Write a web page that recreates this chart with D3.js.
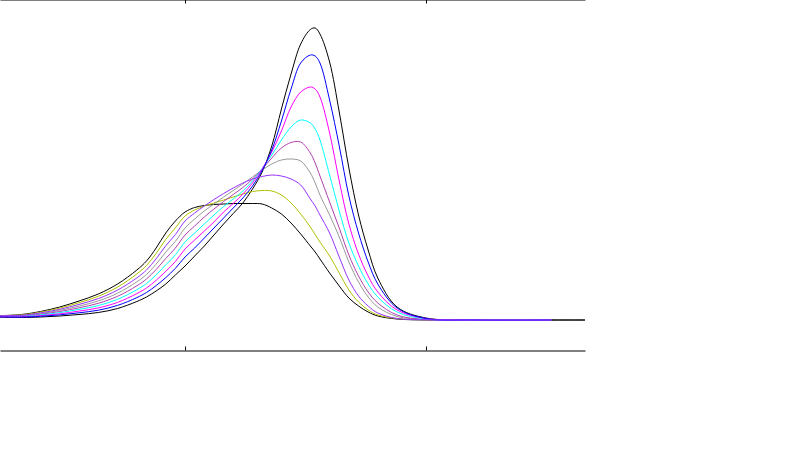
<!DOCTYPE html>
<html>
<head>
<meta charset="utf-8">
<script src="https://cdn.jsdelivr.net/npm/d3@7"></script>
<style>
    html, body { margin: 0; padding: 0; background: #fff; }
    #corpo { width: 800px; height: 450px; }
</style>
</head>
<body>
<div id="corpo"></div>
<script>
// x positions (arbitrary units) where the curves were read
var xs = [0, 30, 50, 70, 90, 110, 130, 150, 160, 170, 180, 190, 200, 210, 220, 230, 240, 250, 260, 270,
          280, 290, 300, 310, 320, 330, 335, 340, 350, 360, 370, 380, 390, 400, 420, 450, 500, 580];
var xsLong = xs.concat([615]);

var tickValues = [200, 450];

// series, from the highest peak down to the lowest
var serie1 = [3, 2.5, 3, 4, 5.5, 7.5, 11.5, 18.5, 23, 29, 36, 45, 54, 64, 74, 85, 96, 106.5, 117, 131,
              148, 174, 211, 246, 276, 290.5, 292, 286, 258, 208, 152, 105, 70, 42, 13, 2, 0.2, 0, 0];
var serie2 = [3.3, 2.9, 3.7, 5.1, 7.2, 9.8, 14.6, 22.4, 27.5, 34.4, 42.4, 51.7, 63, 72, 82, 92, 102, 112, 122, 134,
              149.5, 170, 199, 231, 257, 265, 264, 257, 220, 174, 124, 87, 58, 36, 12, 1.5, 0, 0];
var serie3 = [3.5, 3.2, 4.4, 6.2, 8.9, 12.1, 17.6, 26.4, 32, 39.7, 48.7, 58.5, 71, 80, 89, 98, 108, 116.5, 126, 137,
              151, 168, 189, 213, 228, 233, 231, 223, 187, 139, 96, 66, 44, 28, 10, 1.5, 0, 0];
var serie4 = [3.7, 3.6, 5.1, 7.4, 10.6, 14.4, 20.7, 30.3, 36.5, 45.1, 55.1, 65.2, 78, 87, 96, 105, 113.5, 121, 129, 139,
              151.5, 165, 180, 193, 200, 197, 191, 180, 145, 109, 77, 54, 36, 23, 8, 1, 0, 0];
var serie5 = [3.9, 4, 5.7, 8.5, 12.2, 16.7, 23.7, 34.2, 41, 50.5, 61.5, 72, 85, 94, 103, 111, 118.5, 125.5, 132.5, 141,
              151, 162, 172, 177.5, 178, 167, 157, 144, 118, 92, 65, 44, 28, 17, 5, 0.5, 0, 0];
var serie6 = [4, 4.4, 6.4, 9.6, 13.9, 19.1, 26.8, 38.2, 45.5, 55.9, 67.9, 78.7, 92, 101, 109, 116, 123, 129.5, 136, 143,
              150, 156, 160, 161, 159, 147, 137, 125, 105, 83, 58, 38, 23, 13, 3.5, 0.5, 0, 0];
var serie7 = [4.2, 4.7, 7.1, 10.7, 15.6, 21.4, 29.9, 42.1, 50, 61.2, 74.2, 85.5, 99, 107, 114, 120.5, 126.5, 132, 137, 141,
              143.5, 145, 144, 141, 135, 121, 114, 105, 87, 63, 40, 24, 14, 7, 1.5, 0.2, 0, 0];
var serie8 = [4.3, 5.1, 7.8, 11.9, 17.3, 23.7, 32.9, 46.1, 54.5, 66.6, 80.6, 92.2, 104, 110, 114, 117, 120, 123, 126, 128.5,
              129.5, 129, 125, 117, 106, 93, 85.5, 78, 64, 47, 30, 18, 10, 5, 1.5, 0.2, 0, 0];
var serie9 = [4, 5.5, 8.5, 13, 19, 26, 36, 50, 59, 72, 87, 99, 108, 112.5, 114.5, 115.5, 116, 116.5, 116.5, 116.5,
              116, 112, 106, 97, 86, 74, 68, 61, 47, 34, 22, 14, 8, 4, 1, 0, 0, 0, 0];

var cores = ["#000000", "#0000ff", "#ff00ff", "#00ffff", "#b040b0", "#999999", "#9933ff", "#b0c000", "#000000"];

var series = [
    {nome: "s9", x: xsLong, y: serie9, cor: cores[8]},
    {nome: "s1", x: xsLong, y: serie1, cor: cores[0]},
    {nome: "s8", x: xs, y: serie8, cor: cores[7]},
    {nome: "s6", x: xs, y: serie6, cor: cores[5]},
    {nome: "s5", x: xs, y: serie5, cor: cores[4]},
    {nome: "s4", x: xs, y: serie4, cor: cores[3]},
    {nome: "s3", x: xs, y: serie3, cor: cores[2]},
    {nome: "s2", x: xs, y: serie2, cor: cores[1]},
    {nome: "s7", x: xs, y: serie7, cor: cores[6]}
];

var width = 800, height = 450;
var plotW = 585, plotH = 351;

var svg = d3.select("#corpo").append("svg")
    .attr("width", width)
    .attr("height", height);

var x = d3.scaleLinear().domain([8, 615]).range([0, plotW]);
var y = d3.scaleLinear().domain([-31, 320]).range([plotH, 0]);

svg.append("clipPath").attr("id", "clip")
    .append("rect")
    .attr("x", 0).attr("y", 0)
    .attr("width", plotW).attr("height", plotH);

var line = d3.line()
    .x(function(d) { return x(d[0]); })
    .y(function(d) { return y(d[1]); })
    .curve(d3.curveCatmullRom.alpha(0.5));

svg.append("g")
    .attr("clip-path", "url(#clip)")
    .selectAll("path")
    .data(series)
    .enter().append("path")
    .attr("d", function(d) { return line(d3.zip(d.x, d.y)); })
    .style("fill", "none")
    .style("stroke", function(d) { return d.cor; })
    .style("stroke-width", 1);

// bottom axis, ticks pointing inside
var eixoX = d3.axisBottom(x)
    .tickValues(tickValues)
    .tickSizeInner(-4)
    .tickSizeOuter(0)
    .tickFormat("");

svg.append("g")
    .attr("transform", "translate(0," + (plotH - 0.5) + ")")
    .call(eixoX)
    .call(function(g) { g.select(".domain").attr("stroke", "#000"); });

// top edge: only the ticks show
var eixoTopo = d3.axisTop(x)
    .tickValues(tickValues)
    .tickSizeInner(-4)
    .tickSizeOuter(0)
    .tickFormat("");

svg.append("g")
    .attr("transform", "translate(0,-0.5)")
    .call(eixoTopo);
</script>
</body>
</html>
